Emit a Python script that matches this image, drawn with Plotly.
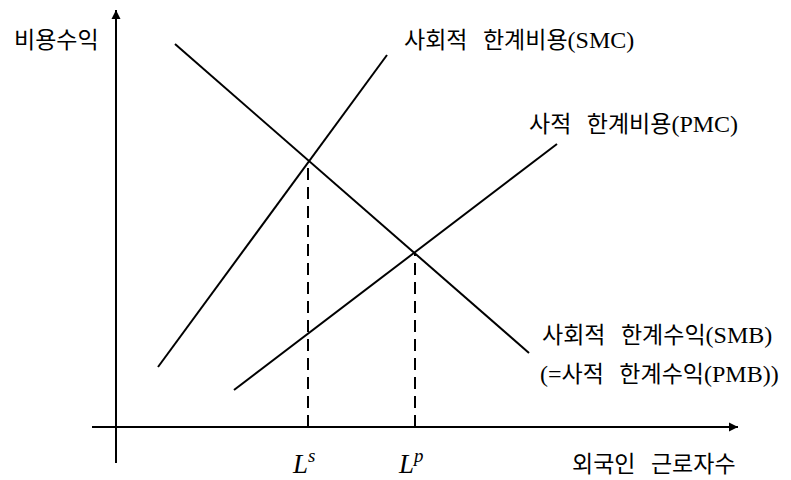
import plotly.graph_objects as go

# Values (units: x = workers, y = cost/benefit)
smb_x = [59, 413]          # social marginal benefit (= private marginal benefit)
smb_y = [383, 74]
smc_x = [42, 271]          # social marginal cost
smc_y = [60, 372]
pmc_x = [118, 441]         # private marginal cost
pmc_y = [37, 283]
ls_x, ls_y = 192, 265      # social optimum
lp_x, lp_y = 299, 174      # private equilibrium
x_axis_end, y_axis_end = 622, 417
x_axis_start, y_axis_start = -24, -36

KFONT = "Noto Sans CJK KR, sans-serif"
LATIN = "font-family:'Liberation Serif',serif;font-size:24px"

fig = go.Figure()
line_style = dict(color="black", width=2)
for xs, ys in [(smb_x, smb_y), (smc_x, smc_y), (pmc_x, pmc_y)]:
    fig.add_trace(go.Scatter(x=xs, y=ys, mode="lines", line=line_style,
                             hoverinfo="skip", showlegend=False))
for vx, vy in [(ls_x, ls_y), (lp_x, lp_y)]:
    fig.add_trace(go.Scatter(x=[vx, vx], y=[0, vy], mode="lines",
                             line=dict(color="black", width=2, dash="12px,7px"),
                             hoverinfo="skip", showlegend=False))
# axes (lines with arrow heads)
fig.add_trace(go.Scatter(x=[x_axis_start, x_axis_end], y=[0, 0], mode="lines",
                         line=line_style, hoverinfo="skip", showlegend=False))
fig.add_trace(go.Scatter(x=[0, 0], y=[y_axis_start, y_axis_end], mode="lines",
                         line=line_style, hoverinfo="skip", showlegend=False))
fig.add_annotation(x=x_axis_end, y=0, ax=x_axis_end - 20, ay=0, xref="x", yref="y",
                   axref="x", ayref="y", showarrow=True, arrowhead=2, arrowsize=1.2,
                   arrowwidth=1.5, arrowcolor="black", text="")
fig.add_annotation(x=0, y=y_axis_end, ax=0, ay=y_axis_end - 20, xref="x", yref="y",
                   axref="x", ayref="y", showarrow=True, arrowhead=2, arrowsize=1.2,
                   arrowwidth=1.5, arrowcolor="black", text="")


def lat(s):
    return f"<span style=\"{LATIN}\">{s}</span>"


sp = "\u00a0\u00a0\u00a0"
labels = [
    (-60, 389, "비용수익", "center"),
    (286, 389, f"사회적{sp}한계비용" + lat("(SMC)"), "left"),
    (411, 305, f"사적{sp}한계비용" + lat("(PMC)"), "left"),
    (424, 94, f"사회적{sp}한계수익" + lat("(SMB)"), "left"),
    (422, 55, lat("(=") + f"사적{sp}한계수익" + lat("(PMB))"), "left"),
    (454, -35, f"외국인{sp}근로자수", "left"),
]
for x, y, t, anc in labels:
    fig.add_annotation(x=x, y=y, text=t, showarrow=False, xanchor=anc, yanchor="middle",
                       font=dict(family=KFONT, size=23, color="black"))
for x, t in [(ls_x, "<i>L</i><sup><i>s</i></sup>"), (lp_x, "<i>L</i><sup><i>p</i></sup>")]:
    fig.add_annotation(x=x - 5, y=-35, text=t, showarrow=False, xanchor="center",
                       yanchor="middle",
                       font=dict(family="Liberation Serif, serif", size=27, color="black"))

fig.update_layout(width=791, height=480, margin=dict(l=0, r=0, t=0, b=0),
                  paper_bgcolor="white", plot_bgcolor="white",
                  xaxis=dict(range=[-116, 675], visible=False, fixedrange=True),
                  yaxis=dict(range=[-53, 427], visible=False, fixedrange=True))
fig.write_html("out.html", config={"displayModeBar": False},
               post_script="document.body.style.margin='0px';"
                           "document.body.style.overflow='hidden';")
